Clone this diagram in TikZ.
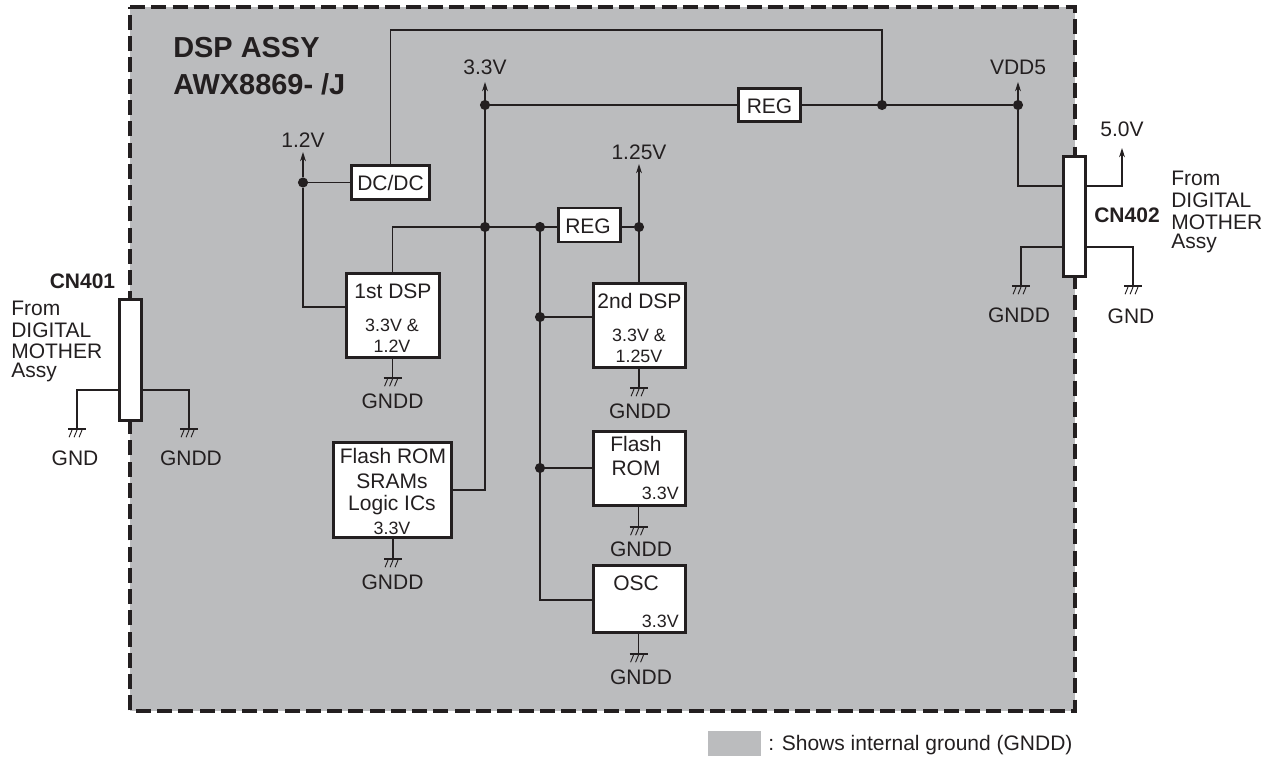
\documentclass[tikz,border=0pt]{standalone}
\usepackage{fontspec}
\setmainfont{Liberation Sans}
\usetikzlibrary{arrows.meta}
\definecolor{ink}{HTML}{231F20}
\definecolor{panel}{HTML}{BBBCBE}
\newcommand{\gndsym}[3]{%
  \coordinate (#1) at (#2,#3);
  \draw[gndbar] ([xshift=-6.75pt]#1) -- ([xshift=6.75pt]#1);
  \foreach \dx in {-3.75,0,3.75}
    \draw[gndtick] ([xshift=\dx pt,yshift=-.8pt]#1) -- ([xshift=\dx pt-2.2pt,yshift=-6.2pt]#1);
}
\tikzset{
  wire/.style={draw=ink,line width=0.9pt},
  up/.style={wire,-{Stealth[length=7pt,width=4.4pt]}},
  gndbar/.style={draw=ink,line width=1.6pt},
  gndtick/.style={draw=ink,line width=0.7pt},
  blk/.style 2 args={draw=ink,fill=white,line width=2.2pt,inner sep=0pt,outer sep=0pt,
    minimum width=#1*.75pt-2.25pt,minimum height=#2*.75pt-2.25pt},
  dot/.style={circle,fill=ink,inner sep=0pt,minimum size=7.6pt},
  lab/.style={text=ink,inner sep=0pt,font=\fontsize{15.75}{18}\selectfont},
  sm/.style={text=ink,inner sep=0pt,font=\fontsize{13.4}{16}\selectfont},
  hd/.style={text=ink,inner sep=0pt,anchor=west,font=\fontsize{21.7}{24}\selectfont\bfseries},
  cnlab/.style={text=ink,inner sep=0pt,font=\fontsize{15.75}{18}\selectfont\bfseries},
  tip/.style={coordinate},
}
\begin{document}
\begin{tikzpicture}[x=.75pt,y=-.75pt]
\useasboundingbox (0,0) rectangle (1279,759);
% panel
\fill[panel] (130,7) rectangle (1075,711);
\draw[ink,line width=2.3pt,dash pattern=on 11.25pt off 4.7pt] (130,7) -- (1075,7) -- (1075,711) -- (130,711) -- cycle;
% heading
\node[hd] (h1) at (173,48) {DSP ASSY};
\node[hd] (h2) at (173,84) {AWX8869- /J};
% blocks
\node[blk={81}{37}] (dcdc) at (390.5,182.5) {};
\node[blk={96}{87}] (dspa) at (393,315.5) {};
\node[blk={95}{87}] (dspb) at (639.5,325.5) {};
\node[blk={65}{36}] (rega) at (769.5,105) {};
\node[blk={65}{37}] (regb) at (589.5,225) {};
\node[blk={121}{98}] (fsl) at (392.5,490) {};
\node[blk={95}{77}] (from) at (639.5,468.5) {};
\node[blk={95}{70}] (osc) at (639.5,599) {};
\node[blk={25}{123}] (cnb) at (1074.5,216.5) {};
\node[blk={25}{124}] (cna) at (130.5,360) {};
% junctions
\node[dot] (j33) at (485,105) {};
\node[dot] (jtop) at (882,105) {};
\node[dot] (jvdd) at (1018,105) {};
\node[dot] (j12) at (303,182.5) {};
\node[dot] (jmid) at (485,227) {};
\node[dot] (jb) at (540,227) {};
\node[dot] (j125) at (639,227) {};
\node[dot] (jd) at (540,317) {};
\node[dot] (jf) at (540,468) {};
% free ends
\coordinate[tip] (t33) at (485,82);
\coordinate[tip] (tvdd) at (1018,82);
\coordinate[tip] (t12) at (303,152);
\coordinate[tip] (t125) at (639,164);
\coordinate[tip] (t50) at (1122,148);
\coordinate (c1) at (391,30);
\coordinate (c2) at (882,30);
\coordinate (c3) at (392.5,227);
\coordinate (c4) at (303,307);
\coordinate (c5) at (485,490);
\coordinate (c6) at (540,600);
\coordinate (c7) at (1018,186);
\coordinate (c8) at (1122,186);
\coordinate (c9) at (1021,247);
\coordinate (c10) at (1133,247);
\coordinate (c11) at (77,390);
\coordinate (c12) at (189,390);
% grounds
\gndsym{ga}{392.5}{378}
\gndsym{gb}{639}{388}
\gndsym{gc}{393}{559}
\gndsym{gd}{638.5}{527}
\gndsym{ge}{638.5}{654}
\gndsym{gf}{1021}{286}
\gndsym{gg}{1133}{286}
\gndsym{gh}{77}{429}
\gndsym{gi}{189}{429}
% connectors
\draw[wire] (dcdc.north) |- (c1) -- (c2) -- (jtop);
\draw[wire] (j33) -- (rega);
\draw[wire] (rega) -- (jvdd);
\draw[up] (j33) -- (t33);
\draw[up] (jvdd) -- (tvdd);
\draw[wire] (j33) -- (c5) -- (fsl.east |- c5);
\draw[up] (j12) -- (t12);
\draw[wire] (j12) -- (dcdc);
\draw[wire] (j12) -- (c4) -- (dspa.west |- c4);
\draw[wire] (dspa.north -| c3) -- (c3) -- (regb.west |- c3);
\draw[wire] (regb.east |- j125) -- (j125);
\draw[up] (dspb.north -| j125) -- (t125);
\draw[wire] (jb) -- (c6) -- (osc.west |- c6);
\draw[wire] (jd) -- (dspb.west |- jd);
\draw[wire] (jf) -- (from.west |- jf);
\draw[wire] (dspa.south -| ga) -- (ga);
\draw[wire] (dspb.south -| gb) -- (gb);
\draw[wire] (fsl.south -| gc) -- (gc);
\draw[wire] (from.south -| gd) -- (gd);
\draw[wire] (osc.south -| ge) -- (ge);
\draw[wire] (jvdd) -- (c7) -- (cnb.west |- c7);
\draw[up] (cnb.east |- c8) -- (c8) -- (t50);
\draw[wire] (cnb.west |- c9) -- (c9) -- (gf);
\draw[wire] (cnb.east |- c10) -- (c10) -- (gg);
\draw[wire] (cna.west |- c11) -- (c11) -- (gh);
\draw[wire] (cna.east |- c12) -- (c12) -- (gi);
% block texts
\node[lab] (tdc) at (390.5,183) {DC/DC};
\node[lab] (tra) at (769.5,106) {REG};
\node[lab] (trb) at (588,226) {REG};
\node[lab] (ta1) at (393,291) {1st DSP};
\node[sm] (ta2) at (392,325) {3.3V \&};
\node[sm] (ta3) at (392,346) {1.2V};
\node[lab] (tb1) at (639.5,301) {2nd DSP};
\node[sm] (tb2) at (639,335) {3.3V \&};
\node[sm] (tb3) at (639,356) {1.25V};
\node[lab] (ts1) at (393,456) {Flash ROM};
\node[lab] (ts2) at (392,481) {SRAMs};
\node[lab] (ts3) at (392,505) {Logic ICs};
\node[sm] (ts4) at (392,528) {3.3V};
\node[lab] (tf1) at (636,444) {Flash};
\node[lab] (tf2) at (636,468) {ROM};
\node[sm,anchor=east] (tf3) at (679,493) {3.3V};
\node[lab] (to1) at (636,583) {OSC};
\node[sm,anchor=east] (to2) at (679,621) {3.3V};
% voltage labels
\node[lab] (l33) at (485,67) {3.3V};
\node[lab] (lvdd) at (1018,67) {VDD5};
\node[lab] (l12) at (303,140) {1.2V};
\node[lab] (l125) at (639,152) {1.25V};
\node[lab] (l50) at (1122,129) {5.0V};
% ground labels
\node[lab] (na) at (392.5,401) {GNDD};
\node[lab] (nb) at (640,411) {GNDD};
\node[lab] (nc) at (392.5,582) {GNDD};
\node[lab] (nd) at (641,549) {GNDD};
\node[lab] (ne) at (641,677) {GNDD};
\node[lab] (nf) at (1019,315) {GNDD};
\node[lab] (ng) at (1131,316) {GND};
\node[lab] (nh) at (75,458) {GND};
\node[lab] (ni) at (191,458) {GNDD};
% connector labels
\node[cnlab] (cl2) at (1127,215) {CN402};
\node[cnlab] (cl1) at (82.5,281) {CN401};
\node[lab,anchor=west] (f21) at (1171,178) {From};
\node[lab,anchor=west] (f22) at (1171,200) {DIGITAL};
\node[lab,anchor=west] (f23) at (1171,222) {MOTHER};
\node[lab,anchor=west] (f24) at (1171,243) {Assy};
\node[lab,anchor=west] (f11) at (11,308) {From};
\node[lab,anchor=west] (f12) at (11,330) {DIGITAL};
\node[lab,anchor=west] (f13) at (11,351) {MOTHER};
\node[lab,anchor=west] (f14) at (11,372) {Assy};
% legend
\node[fill=panel,inner sep=0pt,minimum width=39.75pt,minimum height=18.75pt] (lg) at (734.5,743.5) {};
\node[text=ink,inner sep=0pt,anchor=west,font=\fontsize{15.75}{18}\selectfont] (lgt) at (768,745) {: Shows internal ground (GNDD)};
\end{tikzpicture}
\end{document}
